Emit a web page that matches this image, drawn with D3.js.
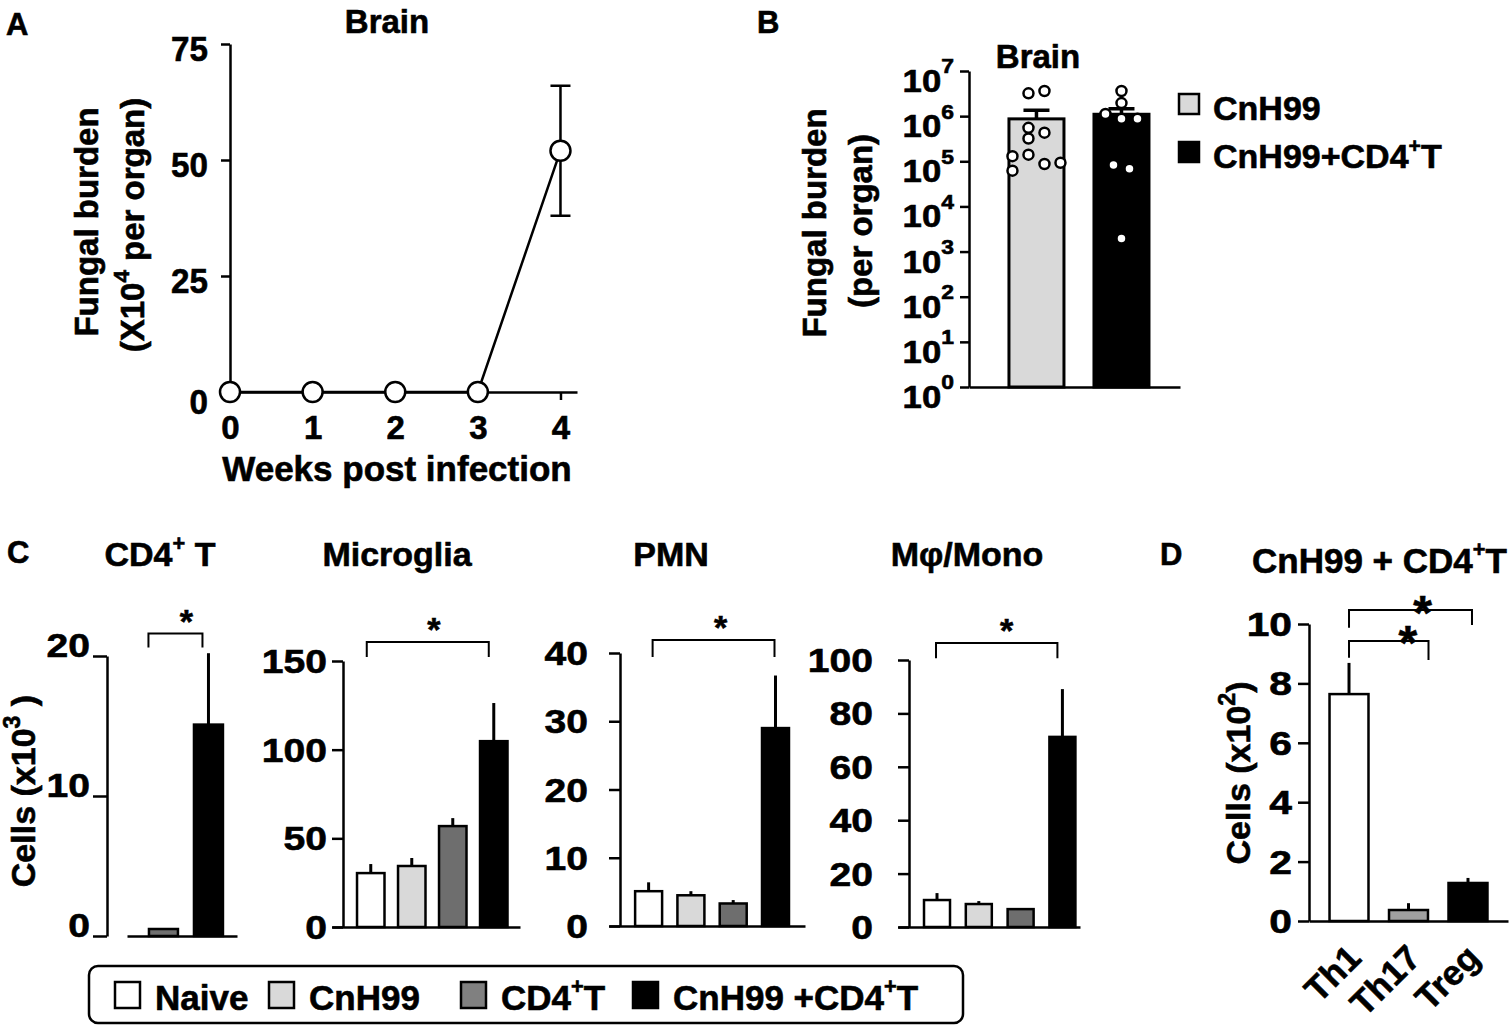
<!DOCTYPE html>
<html>
<head>
<meta charset="utf-8">
<title>Brain fungal burden and immune cells</title>
<script src="https://cdn.jsdelivr.net/npm/d3@7"></script>
<style>
body { margin: 0; background: #fff; }
text { font-family: "Liberation Sans", Arial, Helvetica, sans-serif; font-weight: bold; fill: #000; stroke: #000; stroke-width: 0.6px; }
</style>
</head>
<body>
<script>
// ---- panel A: brain burden over time (x10^4 per organ)
const weeks = [0, 1, 2, 3, 4];
const burdenMean = [0, 0, 0, 0, 52];
const burdenSem = [0, 0, 0, 0, 14];
const burdenTicks = [0, 25, 50, 75];

// ---- panel B: brain burden per organ (log)
const brainGroups = ["CnH99", "CnH99+CD4+T"];
const brainMean = [8.7e5, 1.1e6];
const brainSem = [4.8e5, 3.5e5];
const logTicks = [1, 10, 100, 1e3, 1e4, 1e5, 1e6, 1e7];
const cnH99Mice = [3.2e6, 3.6e6, 5.5e5, 4.3e5, 3.2e5, 1.3e5, 1.4e5, 8.7e4, 9.3e4, 6.2e4];
const cnH99Jitter = [-0.5, 0.5, -0.5, 0.5, -0.5, -1.5, -0.5, 0.5, 1.5, -1.5];
const cnCd4Mice = [3.6e6, 1.95e6, 1.12e6, 8.7e5, 8.7e5, 8.3e4, 6.8e4, 1.95e3];
const cnCd4Jitter = [0, 0, -1, 0, 1, -0.5, 0.5, 0];

// ---- panel C: cells in brain (x10^3)
const cellGroups = ["Naive", "CnH99", "CD4+T", "CnH99 +CD4+T"];
const groupFill = ["#ffffff", "#d9d9d9", "#6e6e6e", "#000000"];
const cd4Mean = [0.5, 15.1];
const cd4Sem = [0, 5.1];
const microMean = [30.4, 34.4, 56.9, 104.8];
const microSem = [5.1, 4.5, 4.5, 21.5];
const pmnMean = [5.1, 4.5, 3.3, 29.0];
const pmnSem = [1.3, 0.6, 0.5, 7.7];
const monoMean = [10.1, 8.6, 6.7, 71.2];
const monoSem = [2.6, 1.1, 0.4, 17.9];

// ---- panel D: CD4 subsets (x10^2)
const subsets = ["Th1", "Th17", "Treg"];
const subsetFill = ["#ffffff", "#a0a0a0", "#000000"];
const subsetMean = [7.64, 0.37, 1.28];
const subsetSem = [1.05, 0.23, 0.17];
const subsetTicks = [0, 2, 4, 6, 8, 10];

const W = 1512, H = 1026;
const svg = d3.select("body").append("svg").attr("width", W).attr("height", H);
svg.append("rect").attr("width", W).attr("height", H).attr("fill", "#fff");

// text with superscript parts, parts starting with ^ are raised
function rich(parent, x, y, parts, size, anchor = "start", raise = 0.42, supScale = 0.62) {
  const t = parent.append("text").attr("x", x).attr("y", y)
    .attr("font-size", size).attr("text-anchor", anchor);
  let up = false;
  parts.forEach(p => {
    const isSup = p[0] === "^";
    const span = t.append("tspan").text(isSup ? p.slice(1) : p);
    if (isSup) span.attr("font-size", size * supScale);
    if (isSup && !up) { span.attr("dy", -size * raise); up = true; }
    else if (!isSup && up) { span.attr("dy", size * raise); up = false; }
  });
  return t;
}

function styleAxis(a, w) {
  a.attr("font-family", null).attr("font-size", null);
  a.select(".domain").attr("stroke", "#000").attr("stroke-width", w);
  a.selectAll(".tick line").attr("stroke", "#000").attr("stroke-width", w);
  a.selectAll(".tick text").attr("fill", "#000");
}

// widen tick labels around their anchor
function stretch(sel, sx) {
  sel.each(function () {
    const t = d3.select(this);
    const x = +t.attr("x") || 0;
    t.attr("transform", `translate(${x},0) scale(${sx},1) translate(${-x},0)`);
  });
}

function vTitle(parent, x, y, parts, size) {
  const g = parent.append("g").attr("transform", `translate(${x},${y}) rotate(-90)`);
  rich(g, 0, 0, parts, size, "middle", 0.45, 0.68);
}

// ================= A =================
const gA = svg.append("g");
const xA = d3.scaleLinear().domain([0, 4.2]).range([230, 577]);
const yA = d3.scaleLinear().domain([0, 75]).range([392, 44]);

gA.append("g").attr("transform", "translate(230,0)")
  .call(d3.axisLeft(yA).tickValues(burdenTicks).tickSize(9).tickSizeOuter(0).tickPadding(13))
  .call(a => styleAxis(a, 2.5))
  .call(a => a.selectAll(".tick text").attr("font-size", 35).attr("y", d => d === 0 ? 10 : 5))
  .call(a => stretch(a.selectAll(".tick text"), 0.95));

gA.append("g").attr("transform", "translate(0,392)")
  .call(d3.axisBottom(xA).tickValues(weeks).tickFormat(d3.format("d")).tickSize(8).tickSizeOuter(0).tickPadding(16))
  .call(a => styleAxis(a, 2.5))
  .call(a => a.selectAll(".tick text").attr("font-size", 33));

gA.append("path")
  .datum(burdenMean)
  .attr("fill", "none").attr("stroke", "#000").attr("stroke-width", 2.5)
  .attr("d", d3.line().x((d, i) => xA(weeks[i])).y(d => yA(d)));

weeks.forEach((w, i) => {
  if (!burdenSem[i]) return;
  const lo = yA(burdenMean[i] - burdenSem[i]), hi = yA(burdenMean[i] + burdenSem[i]);
  gA.append("path").attr("fill", "none").attr("stroke", "#000").attr("stroke-width", 2.5)
    .attr("d", `M${xA(w)},${lo}V${hi}M${xA(w) - 10},${hi}h20M${xA(w) - 10},${lo}h20`);
});

gA.selectAll("circle").data(burdenMean).enter().append("circle")
  .attr("cx", (d, i) => xA(weeks[i])).attr("cy", d => yA(d)).attr("r", 10)
  .attr("fill", "#fff").attr("stroke", "#000").attr("stroke-width", 2.5);

gA.append("text").attr("x", 6).attr("y", 35).attr("font-size", 31).text("A");
gA.append("text").attr("x", 387).attr("y", 33).attr("font-size", 33).attr("text-anchor", "middle").text("Brain");
gA.append("text").attr("x", 397).attr("y", 481).attr("font-size", 35).attr("text-anchor", "middle").text("Weeks post infection");
vTitle(gA, 98, 222, ["Fungal burden"], 33);
vTitle(gA, 144, 225, ["(X10", "^4", " per organ)"], 33);

// ================= B =================
const gB = svg.append("g");
const yB = d3.scaleLog().domain([1, 1e7]).range([387, 71]);
const xB = d3.scaleBand().domain(brainGroups).range([969, 1180])
  .paddingInner(0.353).paddingOuter(0.4175).align(0.563);
const brainFill = ["#d9d9d9", "#000000"];

gB.append("g").attr("transform", "translate(969,0)")
  .call(d3.axisLeft(yB).tickValues(logTicks).tickSize(9).tickSizeOuter(0).tickFormat(""))
  .call(a => styleAxis(a, 2.5));
logTicks.forEach(v => {
  const t = rich(gB, 954, yB(v) + 21, ["10", "^" + Math.round(Math.log10(v))], 31, "end", 0.6, 0.66);
  stretch(t, 1.12);
});
gB.append("g").attr("transform", "translate(0,387)")
  .call(d3.axisBottom(xB).tickSize(0).tickSizeOuter(0).tickFormat(""))
  .call(a => styleAxis(a, 2.5));

gB.selectAll("rect.bar").data(brainMean).enter().append("rect").attr("class", "bar")
  .attr("x", (d, i) => xB(brainGroups[i])).attr("width", xB.bandwidth())
  .attr("y", d => yB(d)).attr("height", d => yB(1) - yB(d))
  .attr("fill", (d, i) => brainFill[i]).attr("stroke", "#000").attr("stroke-width", 3);

brainMean.forEach((m, i) => {
  const cx = xB(brainGroups[i]) + xB.bandwidth() / 2;
  const top = yB(m + brainSem[i]);
  gB.append("path").attr("fill", "none").attr("stroke", "#000").attr("stroke-width", 3.5)
    .attr("d", `M${cx},${yB(m)}V${top}M${cx - 13},${top}h26`);
});

[[cnH99Mice, cnH99Jitter], [cnCd4Mice, cnCd4Jitter]].forEach(([vals, jit], gi) => {
  const cx = xB(brainGroups[gi]) + xB.bandwidth() / 2;
  gB.append("g").selectAll("circle").data(vals).enter().append("circle")
    .attr("cx", (d, i) => cx + jit[i] * 16).attr("cy", d => yB(d)).attr("r", 5)
    .attr("fill", "#fff").attr("stroke", "#000").attr("stroke-width", 2.5);
});

gB.append("text").attr("x", 757).attr("y", 33).attr("font-size", 31).text("B");
gB.append("text").attr("x", 1038).attr("y", 68).attr("font-size", 33).attr("text-anchor", "middle").text("Brain");
vTitle(gB, 826, 223, ["Fungal burden"], 33);
vTitle(gB, 872, 221, ["(per organ)"], 33);

const legB = [["CnH99"], ["CnH99+CD4", "^+", "T"]];
legB.forEach((parts, i) => {
  const y0 = 94 + i * 48;
  gB.append("rect").attr("x", 1179).attr("y", y0).attr("width", 20).attr("height", 20)
    .attr("fill", brainFill[i]).attr("stroke", "#000").attr("stroke-width", 2.5);
  rich(gB, 1213, y0 + 26, parts, 34, "start", 0.45, 0.62);
});

// ================= C =================
const gC = svg.append("g");

function cellPanel(c) {
  const g = gC.append("g");
  const y = d3.scaleLinear().domain([0, c.max]).range([c.base, c.top]);
  const x = d3.scaleBand().domain(c.cats).range(c.xRange)
    .paddingInner(c.pi).paddingOuter(c.po).align(c.align);
  const bw = x.bandwidth();
  const mid = k => x(c.cats[k]) + bw / 2;

  g.append("g").attr("transform", `translate(${c.axisX},0)`)
    .call(d3.axisLeft(y).tickValues(c.ticks).tickSize(c.tick).tickSizeOuter(0).tickPadding(c.pad))
    .call(a => styleAxis(a, 2.5))
    .call(a => a.selectAll(".tick text").attr("font-size", 34).attr("dy", c.dy))
    .call(a => stretch(a.selectAll(".tick text"), 1.15));
  g.append("g").attr("transform", `translate(0,${c.base})`)
    .call(d3.axisBottom(x).tickSize(0).tickSizeOuter(0).tickFormat(""))
    .call(a => styleAxis(a, 2.5));

  g.selectAll("rect").data(c.mean).enter().append("rect")
    .attr("x", (d, i) => x(c.cats[i])).attr("width", bw)
    .attr("y", d => y(d)).attr("height", d => c.base - y(d))
    .attr("fill", (d, i) => c.fills[i]).attr("stroke", "#000").attr("stroke-width", 2.5);

  c.mean.forEach((m, i) => {
    if (!c.sem[i]) return;
    g.append("line").attr("x1", mid(i)).attr("x2", mid(i))
      .attr("y1", y(m)).attr("y2", y(m + c.sem[i]))
      .attr("stroke", "#000").attr("stroke-width", 3);
  });

  const b = c.bracket;
  const xl = mid(b.from) + b.dxL, xr = mid(b.to) + b.dxR;
  g.append("path").attr("fill", "none").attr("stroke", "#000").attr("stroke-width", 2)
    .attr("d", `M${xl},${y(b.leg)}V${y(b.top)}H${xr}V${y(b.leg)}`);
  g.append("text").attr("x", (xl + xr) / 2 + b.sdx).attr("y", y(b.top) - 1)
    .attr("font-size", 34).attr("text-anchor", "middle").text("*");

  rich(g, c.titleX, 566, c.title, 34, "middle", 0.45, 0.64);
}

cellPanel({
  cats: cellGroups.slice(2), fills: groupFill.slice(2), mean: cd4Mean, sem: cd4Sem,
  max: 20, ticks: [0, 10, 20], base: 936, top: 656, axisX: 107, tick: 14, pad: 3, dy: "0em",
  xRange: [127, 237], pi: 0.356, po: 0.4, align: 0.61,
  bracket: { from: 0, to: 1, top: 21.6, leg: 20.6, dxL: -15, dxR: -6, sdx: 11 },
  title: ["CD4", "^+", " T"], titleX: 160
});
cellPanel({
  cats: cellGroups, fills: groupFill, mean: microMean, sem: microSem,
  max: 150, ticks: [0, 50, 100, 150], base: 927, top: 661, axisX: 343, tick: 11, pad: 5, dy: "0.34em",
  xRange: [332, 520], pi: 0.33, po: 0.4575, align: 0.667,
  bracket: { from: 0, to: 3, top: 160.7, leg: 152.2, dxL: -4, dxR: -5, sdx: 6 },
  title: ["Microglia"], titleX: 397
});
cellPanel({
  cats: cellGroups, fills: groupFill, mean: pmnMean, sem: pmnSem,
  max: 40, ticks: [0, 10, 20, 30, 40], base: 926, top: 653, axisX: 620, tick: 11, pad: 21, dy: "0.34em",
  xRange: [609, 805], pi: 0.362, po: 0.498, align: 0.62,
  bracket: { from: 0, to: 3, top: 41.9, leg: 39.4, dxL: 4, dxR: -1, sdx: 7 },
  title: ["PMN"], titleX: 671
});
cellPanel({
  cats: cellGroups, fills: groupFill, mean: monoMean, sem: monoSem,
  max: 100, ticks: [0, 20, 40, 60, 80, 100], base: 927, top: 660, axisX: 909, tick: 11, pad: 25, dy: "0.34em",
  xRange: [898, 1080], pi: 0.378, po: 0.366, align: 0.85,
  bracket: { from: 0, to: 3, top: 106.4, leg: 100.7, dxL: -1, dxR: -5, sdx: 10 },
  title: ["Mφ/Mono"], titleX: 967
});

gC.append("text").attr("x", 7).attr("y", 563).attr("font-size", 31).text("C");
vTitle(gC, 35, 791, ["Cells (x10", "^3", " )"], 34);

// legend for C
const legC = gC.append("g");
legC.append("rect").attr("x", 89).attr("y", 966).attr("width", 874).attr("height", 57).attr("rx", 9)
  .attr("fill", "#fff").attr("stroke", "#000").attr("stroke-width", 2.5);
const legX = [115, 269, 461, 633];
const legParts = [["Naive"], ["CnH99"], ["CD4", "^+", "T"], ["CnH99 +CD4", "^+", "T"]];
cellGroups.forEach((g, i) => {
  legC.append("rect").attr("x", legX[i]).attr("y", 982).attr("width", 25).attr("height", 26)
    .attr("fill", groupFill[i] === "#6e6e6e" ? "#808080" : groupFill[i]).attr("stroke", "#000").attr("stroke-width", 2.5);
  rich(legC, legX[i] + 40, 1010, legParts[i], 35, "start", 0.45, 0.62);
});

// ================= D =================
const gD = svg.append("g");
const yD = d3.scaleLinear().domain([0, 10]).range([921, 624]);
const xD = d3.scaleBand().domain(subsets).range([1309, 1508]).paddingInner(0.345).paddingOuter(0.345);
const dMid = k => xD(subsets[k]) + xD.bandwidth() / 2;

gD.append("g").attr("transform", "translate(1309,0)")
  .call(d3.axisLeft(yD).tickValues(subsetTicks).tickSize(11).tickSizeOuter(0).tickPadding(6))
  .call(a => styleAxis(a, 2.5))
  .call(a => a.selectAll(".tick text").attr("font-size", 34).attr("dy", "0.34em"))
  .call(a => stretch(a.selectAll(".tick text"), 1.2));
gD.append("g").attr("transform", "translate(0,921)")
  .call(d3.axisBottom(xD).tickSize(0).tickSizeOuter(0).tickFormat(""))
  .call(a => styleAxis(a, 2.5));

gD.selectAll("rect").data(subsetMean).enter().append("rect")
  .attr("x", (d, i) => xD(subsets[i])).attr("width", xD.bandwidth())
  .attr("y", d => yD(d)).attr("height", d => yD(0) - yD(d))
  .attr("fill", (d, i) => subsetFill[i]).attr("stroke", "#000").attr("stroke-width", 2.5);

subsetMean.forEach((m, i) => {
  gD.append("line").attr("x1", dMid(i)).attr("x2", dMid(i))
    .attr("y1", yD(m)).attr("y2", yD(m + subsetSem[i]))
    .attr("stroke", "#000").attr("stroke-width", 3);
});

const dBrackets = [
  { from: 0, to: 1, top: 9.43, legL: 8.86, legR: 8.79, dxR: 20, sdx: 19, sdy: 7 },
  { from: 0, to: 2, top: 10.47, legL: 9.87, legR: 9.97, dxR: 4, sdx: 12, sdy: 6 }
];
dBrackets.forEach(b => {
  const xl = dMid(b.from), xr = dMid(b.to) + b.dxR;
  gD.append("path").attr("fill", "none").attr("stroke", "#000").attr("stroke-width", 2)
    .attr("d", `M${xl},${yD(b.legL)}V${yD(b.top)}H${xr}V${yD(b.legR)}`);
  gD.append("text").attr("x", (xl + xr) / 2 + b.sdx).attr("y", yD(b.top) - b.sdy + 25)
    .attr("font-size", 48).attr("text-anchor", "middle").text("*");
});

subsets.forEach((s, i) => {
  gD.append("text").attr("font-size", 35).attr("text-anchor", "end")
    .attr("transform", `translate(${dMid(i) + 14},960) rotate(-45)`).text(s);
});

gD.append("text").attr("x", 1160).attr("y", 565).attr("font-size", 31).text("D");
rich(gD, 1252, 573, ["CnH99 + CD4", "^+", "T"], 35, "start", 0.45, 0.62);
vTitle(gD, 1250, 773, ["Cells (x10", "^2", ")"], 34);
</script>
</body>
</html>
